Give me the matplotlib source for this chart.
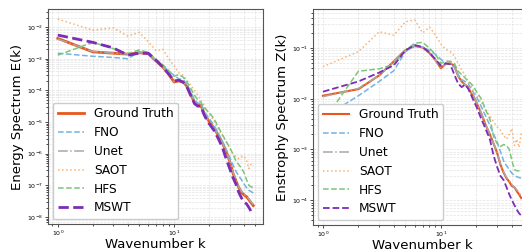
import numpy as np
import matplotlib
matplotlib.use("Agg")
import matplotlib.pyplot as plt

# wavenumbers sampled from the plot
k = [1, 2, 3, 4, 5, 6, 7, 8, 9, 10, 11, 12, 13, 14, 15, 16, 17, 18, 19, 20,
     22, 24, 26, 28, 30, 32, 34, 36, 38, 40, 42, 44, 46, 48]

labels = ["Ground Truth", "FNO", "Unet", "SAOT", "HFS", "MSWT"]

# energy spectrum E(k)
E_gt = [4.4e-3, 1.65e-3, 1.5e-3, 1.4e-3, 1.55e-3, 1.45e-3, 8.5e-4, 5.5e-4, 3.2e-4, 1.85e-4,
        2.0e-4, 1.85e-4, 1.3e-4, 7e-5, 4.2e-5, 3.4e-5, 3.4e-5, 2.0e-5, 1.4e-5, 1.05e-5,
        6.5e-6, 3.8e-6, 2.2e-6, 1.2e-6, 6e-7, 2.5e-7, 1.4e-7, 8.5e-8, 6e-8, 5e-8,
        4.4e-8, 3.5e-8, 2.8e-8, 2.3e-8]
E_fno = [1.5e-3, 1.2e-3, 1.1e-3, 1.0e-3, 1.65e-3, 1.5e-3, 9e-4, 6e-4, 4e-4, 3e-4,
         2.3e-4, 2.2e-4, 1.5e-4, 8.5e-5, 5e-5, 4e-5, 3.8e-5, 2.4e-5, 1.7e-5, 1.3e-5,
         8e-6, 4.5e-6, 2.5e-6, 1.4e-6, 8e-7, 4.5e-7, 2.8e-7, 2.0e-7, 1.5e-7, 1.1e-7,
         8.5e-8, 7e-8, 6.3e-8, 5.8e-8]
E_unet = [4.2e-3, 1.7e-3, 1.5e-3, 1.4e-3, 1.55e-3, 1.45e-3, 8.6e-4, 5.5e-4, 3.2e-4, 1.9e-4,
          2.0e-4, 1.85e-4, 1.3e-4, 7e-5, 4.2e-5, 3.4e-5, 3.4e-5, 2.0e-5, 1.4e-5, 1.05e-5,
          6.5e-6, 3.8e-6, 2.2e-6, 1.2e-6, 6.2e-7, 2.7e-7, 1.5e-7, 9e-8, 6.5e-8, 5.2e-8,
          4.6e-8, 3.7e-8, 3e-8, 2.5e-8]
E_saot = [1.8e-2, 8e-3, 9.5e-3, 5.2e-3, 6.8e-3, 3.5e-3, 1.8e-3, 2.0e-3, 1.0e-3, 6e-4,
          3.6e-4, 3e-4, 2e-4, 1.4e-4, 1e-4, 7e-5, 5e-5, 3.5e-5, 2.5e-5, 1.8e-5,
          1.1e-5, 6e-6, 3.8e-6, 2.4e-6, 1.5e-6, 1e-6, 8e-7, 7e-7, 8e-7, 8.5e-7,
          6e-7, 3.4e-7, 4.8e-7, 4.2e-7]
E_hfs = [1.3e-3, 3.3e-3, 2.1e-3, 1.45e-3, 1.9e-3, 1.6e-3, 9.5e-4, 6.5e-4, 4.2e-4, 2.8e-4,
         3.2e-4, 2.6e-4, 1.8e-4, 1.1e-4, 7e-5, 5e-5, 4.2e-5, 3e-5, 2.4e-5, 2e-5,
         1.3e-5, 7e-6, 4e-6, 2.5e-6, 1.6e-6, 1.0e-6, 6e-7, 4.5e-7, 3.5e-7, 2.5e-7,
         1.5e-7, 1.0e-7, 9e-8, 8.5e-8]
E_mswt = [5.6e-3, 3.3e-3, 2.2e-3, 1.3e-3, 1.5e-3, 1.5e-3, 9e-4, 5.5e-4, 3.3e-4, 2.0e-4,
          2.1e-4, 1.8e-4, 1.2e-4, 6.5e-5, 3.8e-5, 3.2e-5, 3.2e-5, 1.8e-5, 1.2e-5, 9e-6,
          5.5e-6, 3e-6, 1.6e-6, 7e-7, 3.5e-7, 1.8e-7, 1.1e-7, 6e-8, 4e-8, 3e-8,
          2.6e-8, 2e-8, 1.5e-8, 1.2e-8]

# enstrophy spectrum Z(k)
Z_gt = [1.15e-2, 1.55e-2, 2.9e-2, 5.5e-2, 9.1e-2, 0.11, 0.103, 0.08, 0.058, 0.04,
        0.049, 0.05, 0.045, 0.028, 0.022, 0.019, 0.017, 0.013, 0.011, 8.5e-3,
        5.1e-3, 3e-3, 2e-3, 1.3e-3, 8.5e-4, 5e-4, 3.5e-4, 2.7e-4, 2.3e-4, 1.9e-4,
        1.8e-4, 1.5e-4, 1.3e-4, 1.1e-4]
Z_fno = [4.2e-3, 1.15e-2, 2.2e-2, 3.6e-2, 8.5e-2, 0.11, 0.105, 0.09, 0.075, 0.06,
         0.05, 0.048, 0.042, 0.03, 0.024, 0.022, 0.02, 0.016, 0.013, 0.011,
         7e-3, 4.5e-3, 3e-3, 2e-3, 1.4e-3, 9e-4, 6e-4, 4.8e-4, 4e-4, 3.4e-4,
         3.1e-4, 2.9e-4, 2.8e-4, 2.7e-4]
Z_unet = [1.1e-2, 1.6e-2, 2.9e-2, 5.4e-2, 9e-2, 0.11, 0.104, 0.081, 0.058, 0.041,
          0.049, 0.05, 0.044, 0.028, 0.022, 0.019, 0.017, 0.013, 0.011, 8.6e-3,
          5.2e-3, 3.1e-3, 2e-3, 1.3e-3, 8.7e-4, 5.2e-4, 3.6e-4, 2.8e-4, 2.4e-4, 2e-4,
          1.8e-4, 1.6e-4, 1.4e-4, 1.2e-4]
Z_saot = [4.3e-2, 8.5e-2, 0.21, 0.18, 0.33, 0.36, 0.2, 0.26, 0.18, 0.12,
          0.095, 0.085, 0.07, 0.05, 0.037, 0.03, 0.022, 0.018, 0.014, 0.012,
          8.5e-3, 6e-3, 4.6e-3, 3.5e-3, 2.8e-3, 2.4e-3, 1.9e-3, 1.6e-3, 2.0e-3, 2.6e-3,
          1.2e-3, 1.6e-3, 1.1e-3, 2.1e-3]
Z_hfs = [3.5e-3, 3.5e-2, 3.9e-2, 4.8e-2, 9e-2, 0.125, 0.13, 0.1, 0.075, 0.05,
         0.055, 0.055, 0.05, 0.035, 0.03, 0.026, 0.022, 0.02, 0.017, 0.014,
         0.01, 6e-3, 4e-3, 1.8e-3, 1.3e-3, 1.15e-3, 1.25e-3, 1.2e-3, 1.0e-3, 6e-4,
         4e-4, 3.8e-4, 3.8e-4, 3.8e-4]
Z_mswt = [1.38e-2, 2.2e-2, 3.3e-2, 4.6e-2, 9e-2, 0.115, 0.105, 0.082, 0.06, 0.045,
          0.05, 0.048, 0.03, 0.02, 0.017, 0.019, 0.016, 0.012, 0.009, 7e-3,
          4e-3, 2.5e-3, 1.6e-3, 7.5e-4, 4.5e-4, 3e-4, 2.5e-4, 1.8e-4, 1.3e-4, 1.0e-4,
          8e-5, 6.5e-5, 5.5e-5, 5e-5]

colors = ["#E8581C", "#74B3E0", "#A8A8A8", "#FDB170", "#7CC67A", "#7B2DB6"]
styles = ["-", "--", "-.", ":", "--", "--"]

fig = plt.figure(figsize=(5.22, 2.52), dpi=100)
ax1 = fig.add_axes([0.092, 0.111, 0.412, 0.853])
ax2 = fig.add_axes([0.5996, 0.107, 0.418, 0.857])

panels = [
    (ax1, [E_gt, E_fno, E_unet, E_saot, E_hfs, E_mswt], "Energy Spectrum E(k)", [2.0, 1.1, 1.1, 1.1, 1.1, 2.0]),
    (ax2, [Z_gt, Z_fno, Z_unet, Z_saot, Z_hfs, Z_mswt], "Enstrophy Spectrum Z(k)", [1.5, 1.1, 1.1, 1.1, 1.1, 1.3]),
]

for ax, series, ylab, widths in panels:
    for vals, lab, c, ls, lw in zip(series, labels, colors, styles, widths):
        ax.loglog(k, vals, color=c, linestyle=ls, linewidth=lw, label=lab)
    ax.set_xlabel("Wavenumber k", fontsize=9.5, labelpad=0)
    ax.set_ylabel(ylab, fontsize=9.5, labelpad=2)
    ax.grid(True, which="both", linestyle="--", linewidth=0.5, alpha=0.35)
    ax.tick_params(which="both", labelsize=4.5, length=2, width=0.5, pad=1.5)
    ax.tick_params(which="minor", length=1.2)
    for s in ax.spines.values():
        s.set_color("#555555")
        s.set_linewidth(0.8)
    ax.legend(loc="lower left", fontsize=8.7, frameon=True, borderaxespad=0.4,
              handlelength=2.2, labelspacing=0.48, borderpad=0.4,
              edgecolor="#cccccc", framealpha=1.0)

ax1.set_ylim(10**-8.22, 10**-1.43)
ax2.set_ylim(10**-4.49, 10**-0.23)

fig.savefig("out.png", dpi=100)
